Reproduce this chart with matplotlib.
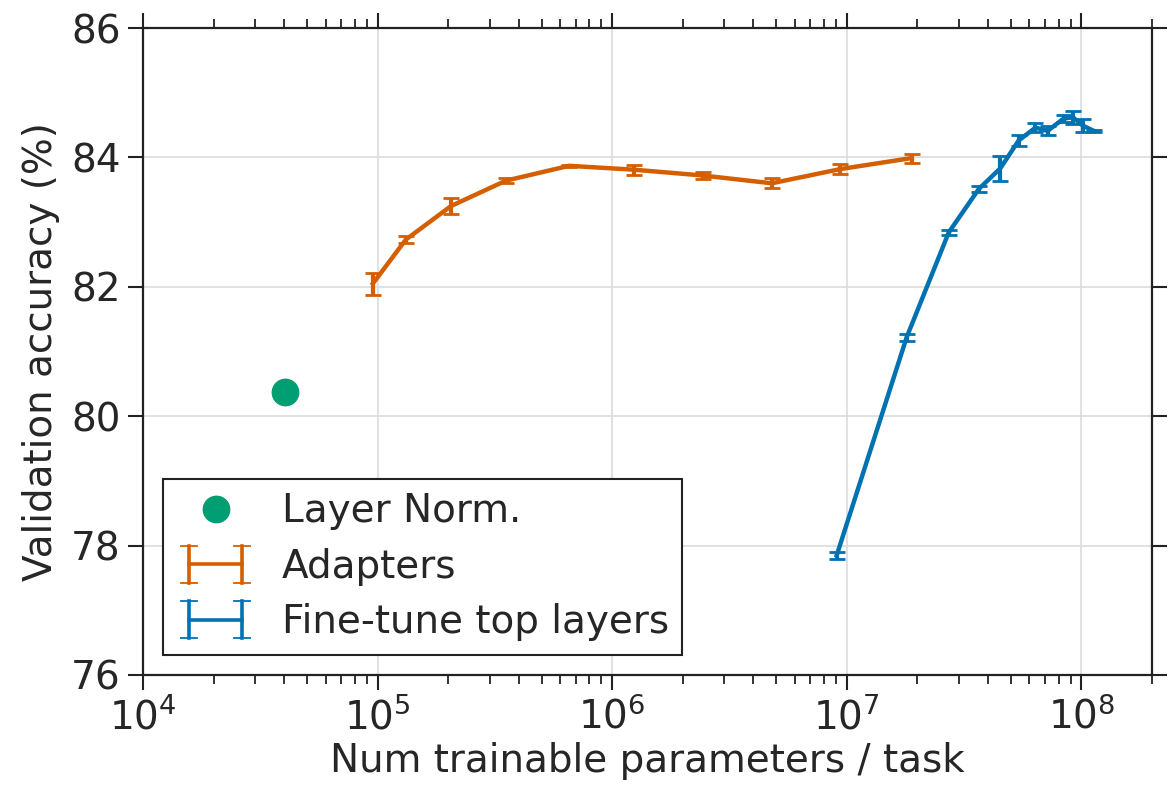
import matplotlib
matplotlib.use("Agg")
import matplotlib.pyplot as plt
from matplotlib.ticker import LogLocator, NullFormatter
from matplotlib.legend_handler import HandlerBase
from matplotlib.container import ErrorbarContainer
from matplotlib.lines import Line2D

# Data
ln_x = [4.02e4]
ln_y = [80.37]

ad_x = [9.55e4, 1.32e5, 2.06e5, 3.52e5, 6.55e5, 1.24e6, 2.44e6, 4.79e6, 9.4e6, 1.89e7]
ad_y = [82.05, 82.73, 83.25, 83.64, 83.87, 83.81, 83.72, 83.60, 83.82, 83.99]
ad_err = [0.17, 0.05, 0.13, 0.04, 0.02, 0.08, 0.06, 0.08, 0.08, 0.07]

ft_x = [9.06e6, 1.80e7, 2.72e7, 3.65e7, 4.51e7, 5.4e7, 6.37e7, 7.18e7, 8.4e7, 9.2e7, 1.016e8, 1.13e8]
ft_y = [77.85, 81.22, 82.84, 83.51, 83.83, 84.26, 84.46, 84.41, 84.60, 84.62, 84.49, 84.41]
ft_err = [0.05, 0.05, 0.04, 0.05, 0.19, 0.08, 0.07, 0.07, 0.06, 0.10, 0.10, 0.02]

c_green = "#009E73"
c_orange = "#D55E00"
c_blue = "#0072B2"
txt = "#262626"


class HHandler(HandlerBase):
    def create_artists(self, legend, orig_handle, xdescent, ydescent, width,
                       height, fontsize, trans):
        color = orig_handle.lines[0].get_color()
        y = height / 2 - ydescent
        x0 = -xdescent + 0.16 * width
        x1 = -xdescent + 0.84 * width
        h = 0.68 * height
        s = 0.1 * width
        arts = [
            Line2D([x0, x1], [y, y], color=color, lw=2.6),
            Line2D([x0, x0], [y - h, y + h], color=color, lw=2.6),
            Line2D([x1, x1], [y - h, y + h], color=color, lw=2.6),
        ]
        for xx in (x0, x1):
            for yy in (y - h, y + h):
                arts.append(Line2D([xx - s, xx + s], [yy, yy], color=color, lw=1.3))
        for a in arts:
            a.set_transform(trans)
        return arts


plt.rcParams['font.family'] = ['DejaVu Sans']
fig = plt.figure(figsize=(11.68, 7.89), dpi=100)
ax = fig.add_axes([0.1224, 0.1445, 0.8639, 0.82])

ax.plot(ln_x, ln_y, 'o', color=c_green, markersize=19, label='Layer Norm.', zorder=3)
ax.errorbar(ad_x, ad_y, yerr=ad_err, color=c_orange, lw=3.2, elinewidth=3,
            capsize=6, capthick=2, label='Adapters', zorder=3)
ax.errorbar(ft_x, ft_y, yerr=ft_err, color=c_blue, lw=3.2, elinewidth=3,
            capsize=6, capthick=2, label='Fine-tune top layers', zorder=3)

ax.set_xscale('log')
ax.set_xlim(1e4, 2e8)
ax.set_ylim(76, 86)
ax.set_yticks([76, 78, 80, 82, 84, 86])
ax.xaxis.set_major_locator(LogLocator(base=10, numticks=10))
ax.xaxis.set_minor_locator(LogLocator(base=10, subs=range(2, 10), numticks=20))
ax.xaxis.set_minor_formatter(NullFormatter())

ax.grid(True, which='major', color='#dcdcdc', lw=1.2, zorder=0)
ax.set_axisbelow(True)

for s in ax.spines.values():
    s.set_color('#222222')
    s.set_linewidth(1.6)

ax.tick_params(which='both', direction='out', top=True, right=True, color='#222222',
               labelsize=28, labelcolor=txt)
ax.tick_params(which='major', length=11, width=1.5)
ax.tick_params(which='minor', length=6.5, width=1.3)
ax.tick_params(axis='x', pad=5)
ax.tick_params(axis='y', pad=5)

ax.set_xlabel('Num trainable parameters / task', fontsize=28, color=txt, labelpad=4)
ax.set_ylabel('Validation accuracy (%)', fontsize=28, color=txt, labelpad=8)

leg = ax.legend(loc='lower left', bbox_to_anchor=(0.02, 0.031), borderaxespad=0,
                fontsize=28, fancybox=False, framealpha=1, edgecolor='#222222',
                handlelength=2.0, handletextpad=0.7, borderpad=0.35, labelspacing=0.45,
                handler_map={ErrorbarContainer: HHandler()})
leg.get_frame().set_linewidth(1.5)
for t in leg.get_texts():
    t.set_color(txt)

fig.savefig('out.png', dpi=100)
